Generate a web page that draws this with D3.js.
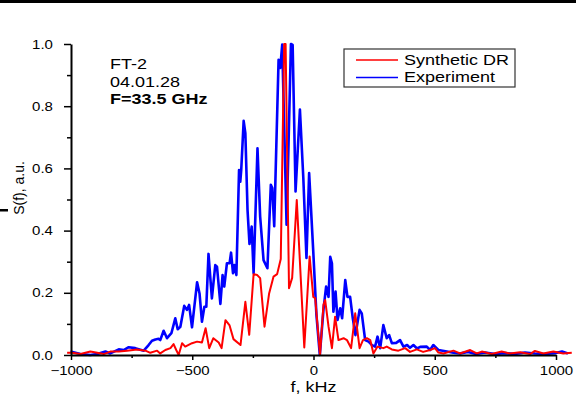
<!DOCTYPE html>
<html lang="en">
  <head>
    <meta charset="utf-8">
    <title>S(f) spectrum</title>
    <script type="text/javascript" src="https://cdn.jsdelivr.net/npm/d3@7"></script>
    <style>
      body { margin: 0; background: #fff; }
      text { font-family: "Liberation Sans", Arial, sans-serif; fill: #000; }
      .wide { transform-box: fill-box; transform: scaleX(1.2); }
    </style>
  </head>
  <body>
    <script type="text/javascript">
    var blueF = [-1002, -961, -920, -892, -858, -838, -803, -783, -762, -735, -700, -680, -666, -652, -639, -632,
                 -618, -604, -586, -570, -560, -549, -533, -522, -513, -501, -480, -470, -460, -450, -442, -433,
                 -419, -405, -398, -384, -375, -368, -357, -346, -340, -332, -326, -318, -307, -302, -298, -288,
                 -281, -272, -264, -255, -247, -231, -220, -206, -190, -176, -170, -162, -144, -137, -129, -111,
                 -93, -86, -74, -56, -42, -29, -18, -1, 12, 26, 41, 52, 62, 69, 76, 82,
                 91, 99, 110, 118, 131, 140, 151, 162, 173, 190, 199, 213, 227, 241, 254, 264,
                 275, 288, 302, 312, 323, 341, 357, 371, 386, 398, 412, 427, 440, 467, 481, 494,
                 515, 550, 577, 604, 637, 670, 707, 749, 790, 831, 872, 913, 955, 996, 1025, 1049];
    var blueS = [0.011, 0.003, 0.0, 0.003, 0.011, 0.005, 0.018, 0.016, 0.025, 0.022, 0.014, 0.032, 0.046, 0.050, 0.052, 0.048,
                 0.078, 0.054, 0.070, 0.118, 0.083, 0.091, 0.158, 0.145, 0.161, 0.089, 0.234, 0.198, 0.107, 0.155, 0.155, 0.325,
                 0.182, 0.289, 0.284, 0.164, 0.257, 0.220, 0.295, 0.295, 0.329, 0.263, 0.289, 0.257, 0.595, 0.557, 0.595, 0.753,
                 0.713, 0.466, 0.357, 0.413, 0.263, 0.665, 0.445, 0.305, 0.279, 0.547, 0.537, 0.414, 0.949, 0.923, 0.998, 0.419,
                 1.0, 0.997, 0.526, 0.789, 0.569, 0.312, 0.585, 0.333, 0.130, 0.0, 0.145, 0.220, 0.187, 0.316, 0.295, 0.139,
                 0.204, 0.113, 0.150, 0.118, 0.241, 0.187, 0.187, 0.118, 0.064, 0.145, 0.134, 0.048, 0.043, 0.032, 0.027, 0.059,
                 0.022, 0.096, 0.054, 0.064, 0.038, 0.039, 0.048, 0.027, 0.032, 0.023, 0.032, 0.021, 0.026, 0.027, 0.016, 0.032,
                 0.016, 0.011, 0.007, 0.005, 0.010, 0.003, 0.008, 0.003, 0.006, 0.003, 0.008, 0.005, 0.003, 0.006, 0.011, 0.005];

    var redF = [-1016, -996, -961, -920, -892, -865, -838, -803, -769, -728, -693, -673, -645, -632, -611, -590,
                -577, -566, -556, -542, -529, -501, -480, -460, -445, -430, -413, -391, -379, -363, -346, -330,
                -301, -281, -265, -247, -232, -220, -202, -183, -165, -150, -135, -121, -115, -101, -88, -69,
                -38, -16, -1, 7, 27, 41, 48, 62, 76, 89, 103, 124, 138, 155, 172, 190,
                204, 220, 234, 247, 264, 288, 302, 323, 350, 378, 398, 426, 452, 481, 501, 515,
                536, 577, 604, 646, 673, 694, 735, 776, 810, 852, 893, 913, 948, 989, 1030, 1065];
    var redS = [0.007, 0.007, 0.003, 0.011, 0.007, 0.003, 0.011, 0.011, 0.014, 0.018, 0.014, 0.007, 0.014, 0.005, 0.016, 0.022,
                0.035, 0.016, 0.0, 0.038, 0.027, 0.038, 0.043, 0.040, 0.086, 0.022, 0.054, 0.040, 0.022, 0.112, 0.095, 0.051,
                0.032, 0.171, 0.065, 0.260, 0.257, 0.247, 0.091, 0.198, 0.252, 0.260, 0.309, 1.0, 1.0, 0.215, 0.248, 0.498,
                0.024, 0.317, 0.187, 0.183, 0.0, 0.161, 0.177, 0.091, 0.022, 0.123, 0.048, 0.054, 0.048, 0.022, 0.134, 0.022,
                0.048, 0.054, 0.048, 0.005, 0.027, 0.022, 0.027, 0.018, 0.014, 0.022, 0.010, 0.018, 0.010, 0.016, 0.022, 0.008,
                0.005, 0.014, 0.005, 0.016, 0.005, 0.011, 0.003, 0.011, 0.005, 0.009, 0.003, 0.013, 0.005, 0.011, 0.005, 0.007];

    var xTicks = [-1000, -500, 0, 500, 1000];
    var xMinor = [-750, -250, 250, 750];
    var yTicks = [0, 0.2, 0.4, 0.6, 0.8, 1.0];
    var yMinor = [0.1, 0.3, 0.5, 0.7, 0.9];

    var seriesNames = ["Synthetic DR", "Experiment"];
    var seriesColors = ["#ff0000", "#0000ff"];
    var noteLines = ["FT-2", "04.01.28", "F=33.5 GHz"];

    var w = 576;
    var h = 403;

    var svg = d3.select("body")
                .append("svg")
                .attr("width", w)
                .attr("height", h);

    svg.append("rect").attr("width", w).attr("height", h).attr("fill", "#fff");
    // black strip along the top edge
    svg.append("rect").attr("x", 0).attr("y", 0).attr("width", w).attr("height", 3).attr("fill", "#000");

    var xScale = d3.scaleLinear().domain([-1000, 1000]).range([71, 556]);
    var yScale = d3.scaleLinear().domain([0, 1]).range([355, 44]);

    var zip = function(a, b) { return a.map(function(v, i) { return [v, b[i]]; }); };

    var line = d3.line()
                 .x(function(d) { return xScale(d[0]); })
                 .y(function(d) { return yScale(d[1]); });

    svg.append("path")
       .datum(zip(blueF, blueS))
       .attr("d", line)
       .attr("fill", "none")
       .attr("stroke", seriesColors[1])
       .attr("stroke-width", 2.6)
       .attr("stroke-linejoin", "round");

    svg.append("path")
       .datum(zip(redF, redS))
       .attr("d", line)
       .attr("fill", "none")
       .attr("stroke", seriesColors[0])
       .attr("stroke-width", 2)
       .attr("stroke-linejoin", "round");

    // axes
    var xAxis = svg.append("g")
                   .attr("transform", "translate(0," + yScale(0) + ")")
                   .call(d3.axisBottom(xScale).tickValues(xTicks).tickSize(5).tickSizeOuter(0)
                           .tickFormat(d3.format("d")).tickPadding(6));
    svg.append("g")
       .attr("transform", "translate(0," + yScale(0) + ")")
       .call(d3.axisBottom(xScale).tickValues(xMinor).tickSize(3).tickFormat(""))
       .select(".domain").remove();

    var yAxis = svg.append("g")
                   .attr("transform", "translate(" + xScale(-1000) + ",0)")
                   .call(d3.axisLeft(yScale).tickValues(yTicks).tickSize(7).tickSizeOuter(0)
                           .tickFormat(d3.format(".1f")).tickPadding(11));
    svg.append("g")
       .attr("transform", "translate(" + xScale(-1000) + ",0)")
       .call(d3.axisLeft(yScale).tickValues(yMinor).tickSize(4).tickFormat(""))
       .select(".domain").remove();

    svg.selectAll(".domain").attr("stroke", "#000").attr("stroke-width", 2);
    svg.selectAll(".tick line").attr("stroke", "#000").attr("stroke-width", 1.5);
    svg.selectAll(".tick text")
       .attr("font-family", "Liberation Sans, Arial, sans-serif")
       .attr("font-size", 12.5)
       .attr("fill", "#000")
       .classed("wide", true);
    xAxis.selectAll(".tick text").style("transform-origin", "center");
    yAxis.selectAll(".tick text").style("transform-origin", "right");

    // axis titles
    svg.append("text")
       .attr("class", "wide")
       .style("transform-origin", "center")
       .attr("x", xScale(0))
       .attr("y", 392)
       .attr("text-anchor", "middle")
       .attr("font-size", 15)
       .text("f, kHz");

    svg.append("text")
       .attr("transform", "translate(24,188) rotate(-90)")
       .attr("text-anchor", "middle")
       .attr("font-size", 14)
       .text("S(f), a.u.");
    svg.append("rect").attr("x", 0).attr("y", 209).attr("width", 8).attr("height", 2.5).attr("fill", "#000");

    // notes
    svg.selectAll(".note")
       .data(noteLines)
       .enter()
       .append("text")
       .attr("class", "note wide")
       .style("transform-origin", "left")
       .attr("x", 110)
       .attr("y", function(d, i) { return 69 + i * 17.7; })
       .attr("font-size", 15)
       .attr("font-weight", function(d, i) { return i == 2 ? "bold" : "normal"; })
       .text(function(d) { return d; });

    // legend
    var legend = svg.append("g").attr("transform", "translate(344,49)");
    legend.append("rect")
          .attr("width", 171)
          .attr("height", 38)
          .attr("fill", "#fff")
          .attr("stroke", "#333")
          .attr("stroke-width", 1.2);
    seriesNames.forEach(function(name, i) {
      legend.append("line")
            .attr("x1", 12).attr("x2", 54)
            .attr("y1", 11 + i * 17.5).attr("y2", 11 + i * 17.5)
            .attr("stroke", seriesColors[i])
            .attr("stroke-width", 1.5);
      legend.append("text")
            .attr("class", "wide")
            .style("transform-origin", "left")
            .attr("x", 60)
            .attr("y", 16 + i * 17)
            .attr("font-size", 15)
            .text(name);
    });
    </script>
  </body>
</html>
